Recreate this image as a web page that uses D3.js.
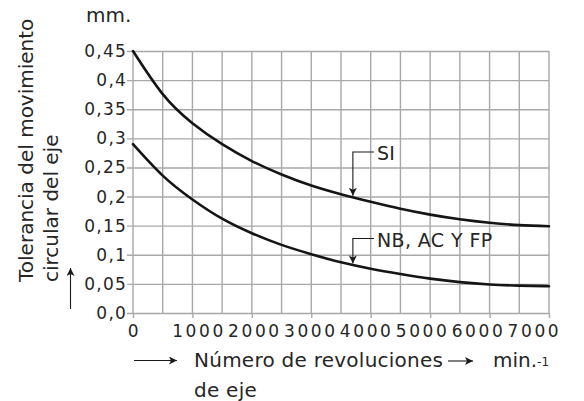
<!DOCTYPE html>
<html><head><meta charset="utf-8">
<script src="https://cdn.jsdelivr.net/npm/d3@7"></script>
<style>
body{margin:0;background:#fff}
svg{display:block}
text{font-family:"DejaVu Sans",sans-serif;fill:#262626}
</style>
</head><body>
<svg id="c" width="584" height="401"></svg>
<script>
// ---- data ----
const rpm = [0,500,1000,1500,2000,2500,3000,3500,4000,4500,5000,5500,6000,6500,7000];
const siValues = [0.450,0.376,0.326,0.290,0.261,0.238,0.219,0.204,0.191,0.179,0.169,0.161,0.155,0.151,0.149];
const nbValues = [0.290,0.236,0.195,0.162,0.137,0.117,0.101,0.087,0.076,0.067,0.059,0.053,0.049,0.047,0.046];
const xTicks = [0,1000,2000,3000,4000,5000,6000,7000];
const xTickLabels = ["0","1000","2000","3000","4000","5000","6000","7000"];
const yTicks = [0,0.05,0.1,0.15,0.2,0.25,0.3,0.35,0.4,0.45];
const yTickLabels = ["0,0","0,05","0,1","0,15","0,2","0,25","0,3","0,35","0,4","0,45"];
const gridX = [0,500,1000,1500,2000,2500,3000,3500,4000,4500,5000,5500,6000,6500,7000];
const annoLabels = ["SI","NB, AC Y FP"];
const annoRpm = [3700,3700];
const annoLevel = [0.2765,0.128];
const annoSeries = [siValues, nbValues];

// ---- layout ----
const svg = d3.select("#c");
const x = d3.scaleLinear().domain([0,7000]).range([133,549]);
const y = d3.scaleLinear().domain([0,0.45]).range([313,51]);
// tick labels in the original are set slightly tighter than the grid
const xLabelPos = d3.scaleLinear().domain([1000,7000]).range([199.7,535.1]);
const gridColor = "#a8a8a8";

// vertical grid lines
svg.append("g").selectAll("line").data(gridX).join("line")
  .attr("x1", d => x(d)).attr("x2", d => x(d))
  .attr("y1", y(0.45)).attr("y2", y(0))
  .attr("stroke", gridColor).attr("stroke-width", 1.4);

// y axis with full-width grid lines
const yAxis = d3.axisLeft(y).tickValues(yTicks)
  .tickFormat((d,i) => yTickLabels[i])
  .tickSize(-(x(7000)-x(0))).tickPadding(9);
const gy = svg.append("g").attr("transform", `translate(${x(0)},0)`).call(yAxis);
gy.select(".domain").remove();
gy.selectAll(".tick line").attr("x1", -6).attr("stroke", gridColor).attr("stroke-width", 1.4);
gy.selectAll(".tick text").attr("font-size", 17).style("letter-spacing", "1.2px")
  .attr("x", -6).attr("dy", "0.32em")
  .style("font-family", '"DejaVu Sans",sans-serif').attr("fill", "#262626");

// x axis ticks & labels
const xAxis = d3.axisBottom(x).tickValues(xTicks)
  .tickFormat((d,i) => xTickLabels[i]).tickSize(5).tickPadding(9);
const gx = svg.append("g").attr("transform", `translate(0,${y(0)})`).call(xAxis);
gx.select(".domain").remove();
gx.selectAll(".tick line").attr("stroke", gridColor).attr("stroke-width", 1.4);
gx.selectAll(".tick text").attr("font-size", 17).style("letter-spacing", "2.6px")
  .attr("dy", "0.71em").attr("y", 12)
  .attr("dx", d => d === 0 ? 1.0 : xLabelPos(d) - x(d) - 1.2)
  .style("font-family", '"DejaVu Sans",sans-serif').attr("fill", "#262626");

// curves
const line = d3.line().x((d,i) => x(rpm[i])).y(d => y(d)).curve(d3.curveNatural);
[siValues, nbValues].forEach(s => {
  svg.append("path").attr("d", line(s)).attr("fill","none")
    .attr("stroke","#151515").attr("stroke-width",2.6).attr("stroke-linecap","round");
});

// arrow marker
const defs = svg.append("defs");
defs.append("marker").attr("id","ah").attr("viewBox","0 0 10 10")
  .attr("refX",10).attr("refY",5).attr("markerWidth",8).attr("markerHeight",8)
  .attr("markerUnits","userSpaceOnUse").attr("orient","auto")
  .append("path").attr("d","M0,0 L10,5 L0,10 L2.5,5 Z").attr("fill","#1a1a1a");

// annotations
function interp(series, v){
  const i = d3.bisectRight(rpm, v) - 1;
  const t = (v - rpm[i])/(rpm[i+1]-rpm[i]);
  return series[i] + t*(series[i+1]-series[i]);
}
annoLabels.forEach((lab,k) => {
  const ax = x(annoRpm[k]);
  const ly = y(annoLevel[k]);
  const tip = y(interp(annoSeries[k], annoRpm[k])) - 1.5;
  svg.append("path").attr("d", `M${ax+21},${ly} H${ax} V${tip}`)
    .attr("fill","none").attr("stroke","#1a1a1a").attr("stroke-width",1.1)
    .attr("marker-end","url(#ah)");
  svg.append("text").attr("x", ax+24).attr("y", ly+8.3)
    .attr("font-size", 19).style("letter-spacing", "0.4px").text(lab);
});

// y axis title
const yt = svg.append("g");
yt.append("text").attr("transform","translate(33,282) rotate(-90)")
  .attr("font-size",20).text("Tolerancia del movimiento");
yt.append("text").attr("transform","translate(58,282) rotate(-90)")
  .attr("font-size",20).text("circular del eje");
// up arrow
yt.append("line").attr("x1",70.5).attr("x2",70.5).attr("y1",309).attr("y2",268)
  .attr("stroke","#1a1a1a").attr("stroke-width",1.1).attr("marker-end","url(#ah)");
svg.append("text").attr("x",86).attr("y",22).attr("font-size",20).text("mm.");

// x axis title
svg.append("line").attr("x1",134).attr("x2",177).attr("y1",360.5).attr("y2",360.5)
  .attr("stroke","#1a1a1a").attr("stroke-width",1.1).attr("marker-end","url(#ah)");
svg.append("text").attr("x",194).attr("y",367).attr("font-size",20).style("letter-spacing","0.25px")
  .text("Número de revoluciones");
svg.append("line").attr("x1",448).attr("x2",473).attr("y1",361).attr("y2",361)
  .attr("stroke","#1a1a1a").attr("stroke-width",1.1).attr("marker-end","url(#ah)");
const mt = svg.append("text").attr("x",493).attr("y",367).attr("font-size",20);
mt.append("tspan").text("min.");
mt.append("tspan").attr("font-size",12).attr("dy",-1).text("-1");
svg.append("text").attr("x",194).attr("y",396.5).attr("font-size",20).style("letter-spacing","0.25px")
  .text("de eje");
</script>
</body></html>
